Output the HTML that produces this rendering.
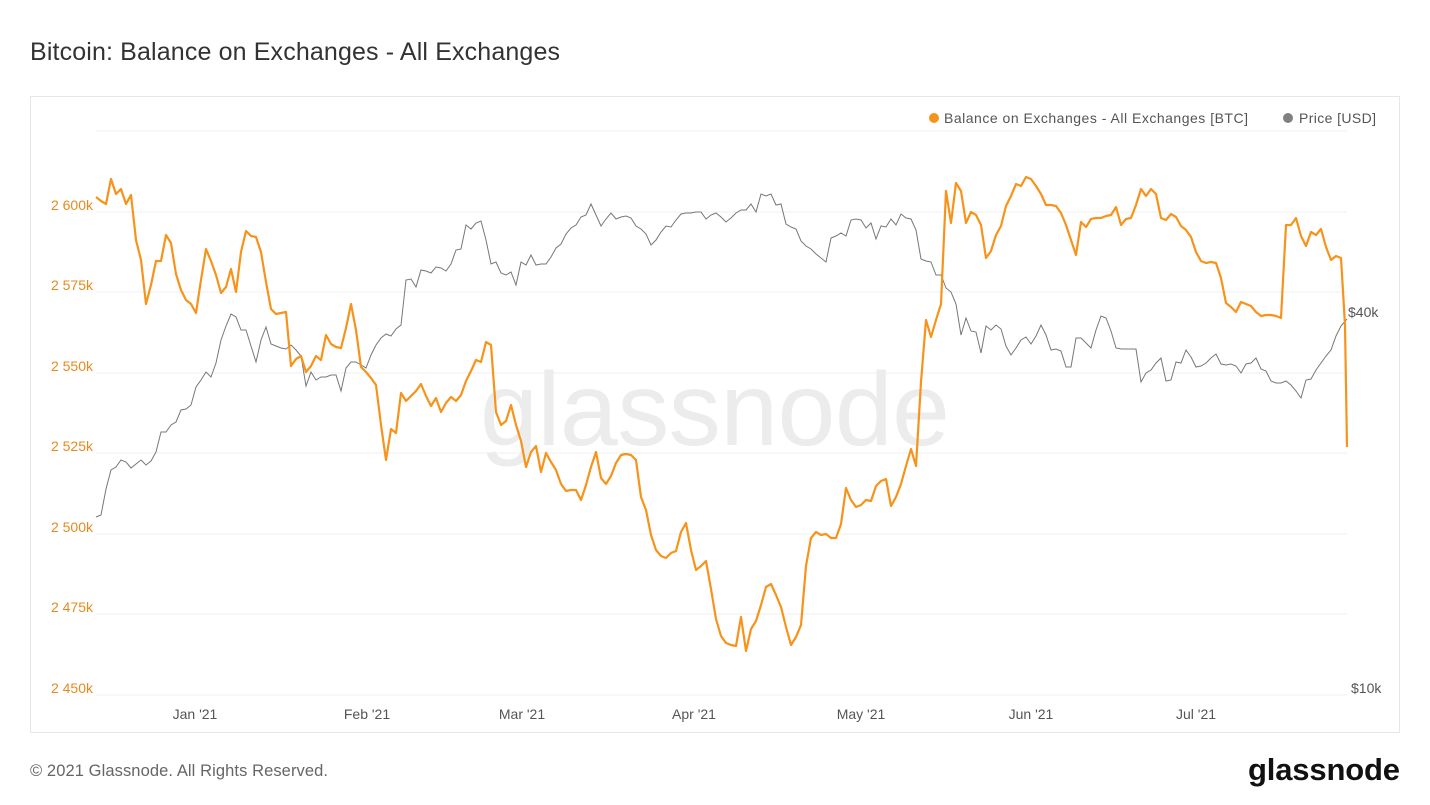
<!DOCTYPE html>
<html><head><meta charset="utf-8"><style>
html,body{margin:0;padding:0;background:#fff;width:1430px;height:805px;overflow:hidden;font-family:"Liberation Sans",sans-serif}
</style></head><body>
<svg width="1430" height="805" xmlns="http://www.w3.org/2000/svg" font-family="Liberation Sans, sans-serif">
<text x="30" y="60" font-size="25" fill="#333" textLength="530">Bitcoin: Balance on Exchanges - All Exchanges</text>
<rect x="30.5" y="96.5" width="1369" height="636" fill="#fff" stroke="#e6e6e6"/>
<g stroke="#efefef" stroke-width="1">
<line x1="96" x2="1347" y1="131" y2="131"/><line x1="96" x2="1347" y1="212" y2="212"/>
<line x1="96" x2="1347" y1="292" y2="292"/><line x1="96" x2="1347" y1="373" y2="373"/>
<line x1="96" x2="1347" y1="453" y2="453"/><line x1="96" x2="1347" y1="534" y2="534"/>
<line x1="96" x2="1347" y1="614" y2="614"/><line x1="96" x2="1347" y1="695" y2="695"/>
</g>
<text x="480" y="445" font-size="104" fill="#ececec" textLength="470">glassnode</text>
<g font-size="14" fill="#e8891d" text-anchor="end">
<text x="93" y="210">2 600k</text><text x="93" y="290">2 575k</text><text x="93" y="371">2 550k</text>
<text x="93" y="451">2 525k</text><text x="93" y="532">2 500k</text><text x="93" y="612">2 475k</text><text x="93" y="693">2 450k</text>
</g>
<g font-size="14" fill="#555"><text x="1348" y="317">$40k</text><text x="1351" y="693">$10k</text></g>
<g font-size="14" fill="#555" text-anchor="middle">
<text x="195" y="719">Jan '21</text><text x="367" y="719">Feb '21</text><text x="522" y="719">Mar '21</text>
<text x="694" y="719">Apr '21</text><text x="861" y="719">May '21</text><text x="1031" y="719">Jun '21</text><text x="1196" y="719">Jul '21</text>
</g>
<circle cx="934" cy="118" r="5" fill="#f7931a"/>
<text x="944" y="123" font-size="14" fill="#555" textLength="304">Balance on Exchanges - All Exchanges [BTC]</text>
<circle cx="1288" cy="118" r="5" fill="#808080"/>
<text x="1299" y="123" font-size="14" fill="#555" textLength="77">Price [USD]</text>
<polyline fill="none" stroke="#777" stroke-width="1" points="96,517 101,515 106,489 111,470 116,467 121,460 126,462 131,468 136,464 141,460 146,465 151,461 156,452 161,432 166,432 171,425 176,422 181,410 186,409 191,405 196,387 201,380 206,372 211,377 216,363 221,340 226,326 231,314 236,317 241,330 246,330 251,346 256,362 261,340 266,327 271,344 276,346 281,348 286,349 291,345 296,350 301,356 306,386 311,372 316,380 321,377 326,377 331,375 336,375 341,391 346,368 351,362 356,362 361,365 366,368 371,355 376,345 381,338 386,334 391,336 396,329 401,325 406,280 411,279 416,287 421,270 426,271 431,273 436,267 441,268 446,271 451,264 456,250 461,249 466,225 471,229 476,223 481,221 486,240 491,264 496,262 501,273 506,275 511,272 516,285 521,262 526,265 531,255 536,265 541,264 546,264 551,257 556,248 561,244 566,234 571,228 576,225 581,217 586,215 591,204 596,215 601,226 606,219 611,213 616,219 621,217 626,216 631,218 636,226 641,229 646,234 651,245 656,240 661,232 666,226 671,227 676,220 681,214 686,213 691,213 696,212 701,212 706,219 711,215 716,213 721,217 726,222 731,218 736,213 741,210 746,210 751,204 756,212 761,194 766,196 771,194 776,205 781,204 786,224 791,227 796,229 801,241 806,246 811,249 816,254 821,258 826,262 831,238 836,236 841,233 846,236 851,220 856,219 861,220 866,228 871,223 876,239 881,226 886,227 891,219 896,225 901,214 906,218 911,219 916,230 921,259 926,261 931,262 936,275 941,275 946,288 951,292 956,304 961,335 966,318 971,331 976,332 981,353 986,326 991,330 996,325 1001,329 1006,346 1011,355 1016,348 1021,340 1026,337 1031,344 1036,336 1041,325 1046,335 1051,350 1056,349 1061,351 1066,367 1071,367 1076,338 1081,338 1086,343 1091,348 1096,330 1101,316 1106,318 1111,331 1116,348 1121,349 1126,349 1131,349 1136,349 1141,382 1146,373 1151,370 1156,363 1161,358 1166,381 1171,380 1176,362 1181,363 1186,350 1191,357 1196,367 1201,366 1206,363 1211,358 1216,354 1221,364 1226,365 1231,364 1236,366 1241,373 1246,364 1251,363 1256,358 1261,369 1266,371 1271,381 1276,383 1281,383 1286,381 1291,385 1296,391 1301,398 1306,380 1311,379 1316,370 1321,363 1326,356 1331,350 1336,336 1341,326 1347,319"/>
<polyline fill="none" stroke="#f7931a" stroke-width="2.2" stroke-linejoin="round" points="96,197 101,201 106,204 111,179 116,194 121,189 126,204 131,195 136,240 141,260 146,304 151,285 156,261 161,261 166,235 171,243 176,274 181,290 186,300 191,304 196,313 201,280 206,249 211,261 216,275 221,293 226,287 231,269 236,292 241,252 246,231 251,236 256,237 261,252 266,282 271,309 276,314 281,313 286,312 291,366 296,359 301,356 306,372 311,366 316,356 321,360 326,335 331,344 336,347 341,348 346,328 351,304 356,330 361,367 366,372 371,378 376,385 381,425 386,460 391,429 396,433 401,393 406,401 411,396 416,391 421,384 426,396 431,406 436,398 441,412 446,403 451,397 456,401 461,395 466,381 471,371 476,360 481,362 486,342 491,345 496,412 501,425 506,421 511,405 516,425 521,441 526,467 531,452 536,446 541,472 546,453 551,462 556,470 561,484 566,491 571,490 576,490 581,500 586,485 591,467 596,452 601,478 606,484 611,476 616,463 621,455 626,454 631,455 636,460 641,497 646,510 651,535 656,550 661,556 666,558 671,553 676,551 681,532 686,523 691,550 696,570 701,566 706,561 711,589 716,619 721,636 726,643 731,645 736,646 741,617 746,651 751,629 756,621 761,605 766,587 771,584 776,595 781,607 786,627 791,645 796,637 801,625 806,566 811,538 816,532 821,535 826,534 831,538 836,538 841,524 846,488 851,500 856,507 861,505 866,500 871,501 876,486 881,481 886,479 891,506 896,497 901,484 906,466 911,449 916,466 921,382 926,320 931,337 936,320 941,304 946,191 951,223 956,183 961,191 966,223 971,212 976,215 981,225 986,258 991,251 996,235 1001,226 1006,206 1011,196 1016,184 1021,186 1026,177 1031,179 1036,186 1041,194 1046,205 1051,205 1056,206 1061,213 1066,225 1071,240 1076,255 1081,222 1086,227 1091,219 1096,218 1101,218 1106,216 1111,215 1116,207 1121,225 1126,219 1131,218 1136,205 1141,189 1146,196 1151,189 1156,194 1161,218 1166,220 1171,214 1176,217 1181,226 1186,230 1191,237 1196,252 1201,261 1206,263 1211,262 1216,263 1221,278 1226,303 1231,307 1236,312 1241,302 1246,304 1251,306 1256,312 1261,316 1266,315 1271,315 1276,316 1281,318 1286,225 1291,225 1296,218 1301,236 1306,246 1311,232 1316,235 1321,229 1326,247 1331,260 1336,256 1341,258 1345,325 1347,447"/>
<text x="30" y="776" font-size="16.5" fill="#666" textLength="298">© 2021 Glassnode. All Rights Reserved.</text>
<text x="1248" y="780" font-size="31" fill="#111" font-weight="bold" textLength="152">glassnode</text>
</svg>
</body></html>
